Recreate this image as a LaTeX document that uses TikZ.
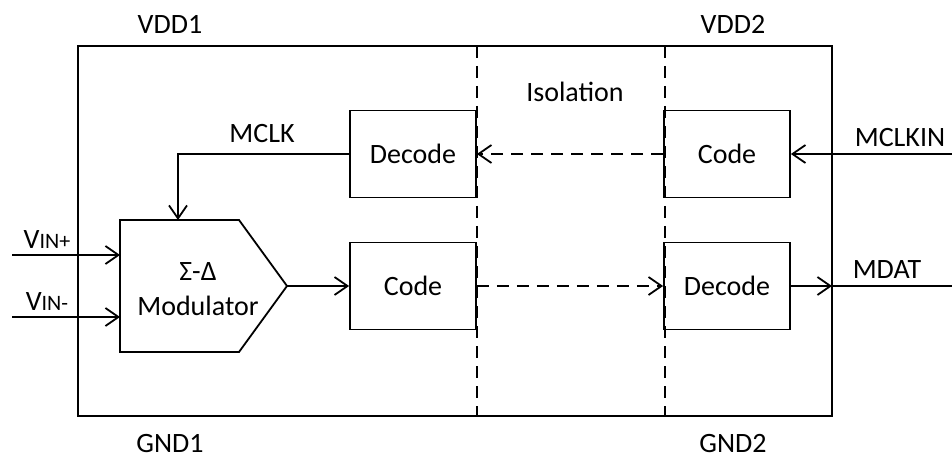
\documentclass[tikz,border=0pt]{standalone}
\usepackage{fontspec}
\setmainfont{Carlito}
\usetikzlibrary{arrows.meta}

\begin{document}
\begin{tikzpicture}[x=1pt,y=-1pt,line width=1.8pt,
  blk/.style={draw,minimum width=126pt,minimum height=87pt,inner sep=0pt,font=\fontsize{28}{30}\selectfont},
  lbl/.style={inner sep=0pt,font=\fontsize{28}{35}\selectfont},
  sig/.style={-{Straight Barb[length=13pt,width=18pt]}},
  iso/.style={dash pattern=on 12pt off 8pt}]
			\useasboundingbox (0,0) rectangle (952,462);
			% frame and isolation barrier
			\draw (78,46) rectangle (832,416);
			\draw[iso] (477,46) -- (477,416);
			\draw[iso] (665,46) -- (665,416);
			\node[lbl] (vdd1) at (170,24) {VDD1};
			\node[lbl] (vdd2) at (733,24) {VDD2};
			\node[lbl] (gnd1) at (170,444) {GND1};
			\node[lbl] (gnd2) at (733,444) {GND2};
			\node[lbl] (isol) at (575,92) {Isolation};
			% blocks
			\node[blk] (dec1) at (413,154) {Decode};
			\node[blk] (cod1) at (413,286) {Code};
			\node[blk] (cod2) at (727,154) {Code};
			\node[blk] (dec2) at (727,286) {Decode};
			% modulator
			\draw (120,220) -- (239,220) -- (287,286) -- (239,352) -- (120,352) -- cycle;
			\node[lbl,align=center] (mod) at (198,289) {Σ-Δ\\Modulator};
			\coordinate (modout) at (287,286);
			\coordinate (modinp) at (120,255);
			\coordinate (modinm) at (120,317);
			\coordinate (modclk) at (178,220);
			% inputs
			\coordinate (vinp) at (12,255);
			\coordinate (vinm) at (12,317);
			\node[lbl] (lvinp) at (47,240) {V{\fontsize{22}{22}\selectfont IN+}};
			\node[lbl] (lvinm) at (47,302) {V{\fontsize{22}{22}\selectfont IN-}};
			\draw[sig] (vinp) -- (modinp);
			\draw[sig] (vinm) -- (modinm);
			% clock path
			\draw[sig] (dec1.west) -| (modclk);
			\node[lbl] (lmclk) at (262,134) {MCLK};
			\draw[sig,iso] (cod2.west) -- (dec1.east);
			\coordinate (mclkin) at (952,154);
			\draw[sig] (mclkin) -- (cod2.east);
			\node[lbl] (lmclkin) at (900,138) {MCLKIN};
			% data path
			\draw[sig] (modout) -- (cod1.west);
			\draw[sig,iso] (cod1.east) -- (dec2.west);
			\coordinate (mdatpin) at (832,286);
			\coordinate (mdat) at (952,286);
			\draw[sig] (dec2.east) -- (mdatpin);
			\draw (mdatpin) -- (mdat);
			\node[lbl] (lmdat) at (887,270) {MDAT};
		\end{tikzpicture}
\end{document}
